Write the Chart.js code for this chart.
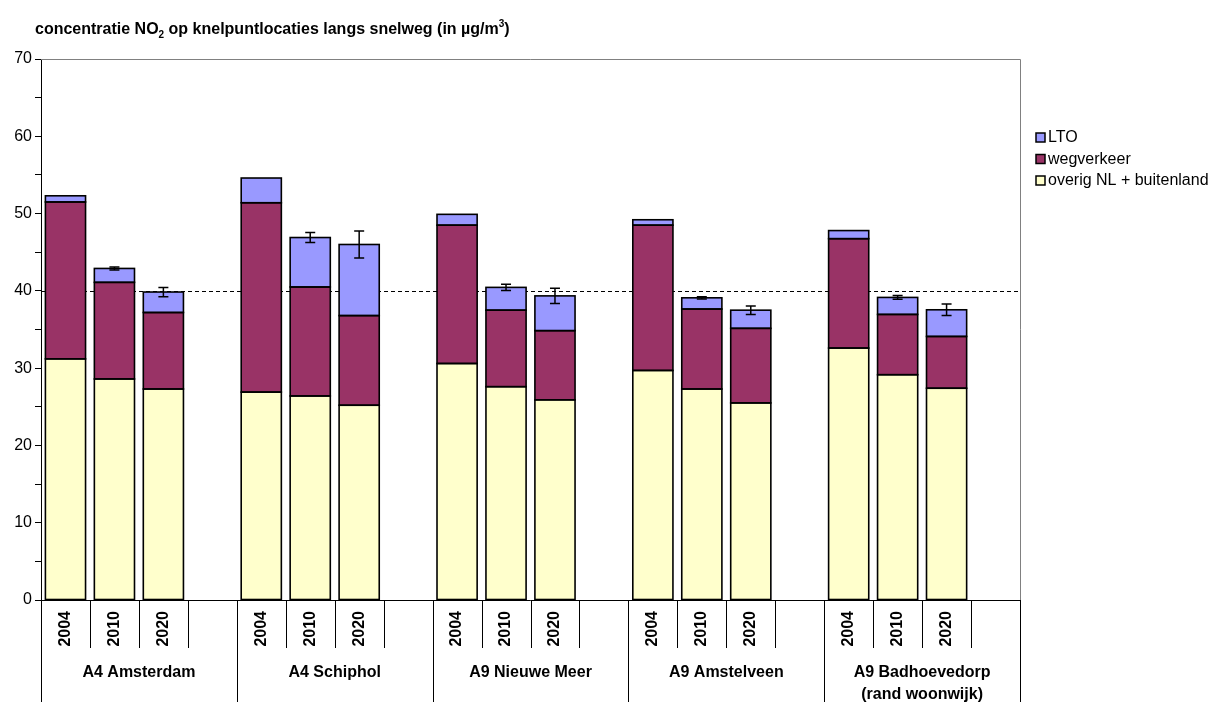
<!DOCTYPE html>
<html>
<head>
<meta charset="utf-8">
<script src="https://cdn.jsdelivr.net/npm/chart.js@4/dist/chart.umd.min.js"></script>
<style>
  html, body { margin: 0; padding: 0; background: #fff; }
  #wrap { position: relative; width: 1221px; height: 702px; }
</style>
</head>
<body>
<div id="wrap"><canvas id="no2Chart" width="1221" height="702"></canvas></div>
<script>
const locations = ["A4 Amsterdam", "A4 Schiphol", "A9 Nieuwe Meer", "A9 Amstelveen", ["A9 Badhoevedorp", "(rand woonwijk)"]];
const years = ["2004", "2010", "2020"];

// contributions per location and year (µg/m3), in order 2004, 2010, 2020
const overigNL = [31.2, 28.6, 27.3, 26.9, 26.4, 25.2, 30.6, 27.6, 25.9, 29.7, 27.3, 25.5, 32.6, 29.15, 27.4];
const wegverkeer = [20.3, 12.5, 9.9, 24.5, 14.1, 11.6, 17.9, 9.9, 8.95, 18.8, 10.35, 9.65, 14.15, 7.8, 6.7];
const lto = [0.8, 1.8, 2.65, 3.2, 6.4, 9.2, 1.4, 2.95, 4.5, 0.7, 1.45, 2.35, 1.05, 2.2, 3.45];
const ltoError = [0, 0.2, 0.6, 0, 0.65, 1.75, 0, 0.4, 1.0, 0, 0.15, 0.55, 0, 0.25, 0.75];
const limitValue = 40;

const yTicks = [0, 10, 20, 30, 40, 50, 60, 70];

const FONT = "'Liberation Sans', Arial, sans-serif";

// every location gets an empty slot after its three years
function withGaps(arr) {
  const out = [];
  arr.forEach((v, i) => {
    out.push(v);
    if (i % 3 === 2) out.push(null);
  });
  return out;
}

const labels = [];
locations.forEach(() => {
  years.forEach((y) => labels.push(y));
  labels.push("");
});

const totals = overigNL.map((v, i) => v + wegverkeer[i] + lto[i]);
const totalsGapped = withGaps(totals);
const errorGapped = withGaps(ltoError);

const legendItems = [
  { label: "LTO", color: "#9999ff" },
  { label: "wegverkeer", color: "#993366" },
  { label: "overig NL + buitenland", color: "#ffffcc" },
];

const decorations = {
  id: "decorations",
  beforeDatasetsDraw(chart) {
    const { ctx, chartArea: a, scales } = chart;
    const y40 = Math.round(scales.y.getPixelForValue(limitValue)) + 0.5;
    ctx.save();
    ctx.strokeStyle = "#000";
    ctx.lineWidth = 1;
    ctx.setLineDash([4, 3]);
    ctx.beginPath();
    ctx.moveTo(a.left, y40);
    ctx.lineTo(a.right, y40);
    ctx.stroke();
    ctx.restore();
  },
  afterDatasetsDraw(chart) {
    const { ctx, scales } = chart;
    ctx.save();
    ctx.strokeStyle = "#000";

    // outline every stacked segment so the joins get one line
    ctx.lineWidth = 1.6;
    chart.data.datasets.forEach((ds, di) => {
      chart.getDatasetMeta(di).data.forEach((el, i) => {
        if (ds.data[i] === null) return;
        const { x, y, base, width } = el.getProps(["x", "y", "base", "width"], true);
        ctx.strokeRect(x - width / 2, y, width, base - y);
      });
    });

    // uncertainty on the 2010 and 2020 totals
    const meta = chart.getDatasetMeta(2);
    ctx.lineWidth = 1.5;
    totalsGapped.forEach((t, i) => {
      const e = errorGapped[i];
      if (t === null || !e) return;
      const x = meta.data[i].x;
      const yHi = scales.y.getPixelForValue(t + e);
      const yLo = scales.y.getPixelForValue(t - e);
      ctx.beginPath();
      ctx.moveTo(x, yHi);
      ctx.lineTo(x, yLo);
      ctx.moveTo(x - 5, yHi);
      ctx.lineTo(x + 5, yHi);
      ctx.moveTo(x - 5, yLo);
      ctx.lineTo(x + 5, yLo);
      ctx.stroke();
    });
    ctx.restore();
  },
  afterDraw(chart) {
    const { ctx, chartArea: a, scales } = chart;
    const slot = a.width / labels.length;
    const bottom = chart.height;
    ctx.save();

    // plot frame: grey top and right edge, black x axis
    ctx.strokeStyle = "#808080";
    ctx.lineWidth = 1;
    ctx.beginPath();
    ctx.moveTo(a.left, a.top + 0.5);
    ctx.lineTo(a.right + 0.5, a.top + 0.5);
    ctx.lineTo(a.right + 0.5, a.bottom);
    ctx.stroke();

    ctx.strokeStyle = "#000";
    ctx.beginPath();
    ctx.moveTo(a.left, a.bottom + 0.5);
    ctx.lineTo(a.right + 0.5, a.bottom + 0.5);
    ctx.stroke();

    // category separators: short between years, long between locations
    ctx.strokeStyle = "#000";
    for (let i = 0; i <= labels.length; i++) {
      const x = Math.round(a.left + i * slot) + 0.5;
      const long = i % 4 === 0;
      ctx.beginPath();
      ctx.moveTo(x, a.bottom);
      ctx.lineTo(x, long ? bottom : a.bottom + 48);
      ctx.stroke();
    }

    // year labels, rotated
    ctx.fillStyle = "#000";
    ctx.font = "bold 16px " + FONT;
    ctx.textAlign = "right";
    ctx.textBaseline = "middle";
    labels.forEach((lab, i) => {
      if (!lab) return;
      const x = scales.x.getPixelForValue(i);
      ctx.save();
      ctx.translate(x, a.bottom + 11);
      ctx.rotate(-Math.PI / 2);
      ctx.fillText(lab, 0, 0);
      ctx.restore();
    });

    // location labels
    ctx.textAlign = "center";
    ctx.font = "bold 16px " + FONT;
    locations.forEach((loc, g) => {
      const cx = a.left + (g * 4 + 2) * slot;
      const lines = Array.isArray(loc) ? loc : [loc];
      lines.forEach((ln, k) => ctx.fillText(ln, cx, a.bottom + 73 + k * 22));
    });

    // title with sub- and superscript
    ctx.textAlign = "left";
    ctx.textBaseline = "alphabetic";
    let tx = 35;
    const ty = 34;
    const parts = [
      ["concentratie NO", 0],
      ["2", 1],
      [" op knelpuntlocaties langs snelweg (in µg/m", 0],
      ["3", -1],
      [")", 0],
    ];
    parts.forEach(([txt, shift]) => {
      ctx.font = (shift ? "bold 10px " : "bold 16px ") + FONT;
      const dy = shift === 1 ? 4 : shift === -1 ? -7 : 0;
      ctx.fillText(txt, tx, ty + dy);
      tx += ctx.measureText(txt).width;
    });

    // legend
    ctx.font = "16px " + FONT;
    ctx.textBaseline = "middle";
    legendItems.forEach((item, k) => {
      const ly = 138 + k * 21.5;
      ctx.fillStyle = item.color;
      ctx.fillRect(1036, ly - 5, 9, 9);
      ctx.strokeStyle = "#000";
      ctx.lineWidth = 1.5;
      ctx.strokeRect(1036, ly - 5, 9, 9);
      ctx.fillStyle = "#000";
      ctx.fillText(item.label, 1048, ly);
    });

    ctx.restore();
  },
};

const barStyle = {
  borderWidth: 0,
  inflateAmount: 0,
  categoryPercentage: 1,
  barPercentage: 0.82,
};

new Chart(document.getElementById("no2Chart"), {
  type: "bar",
  data: {
    labels: labels,
    datasets: [
      { label: "overig NL + buitenland", data: withGaps(overigNL), backgroundColor: "#ffffcc", ...barStyle },
      { label: "wegverkeer", data: withGaps(wegverkeer), backgroundColor: "#993366", ...barStyle },
      { label: "LTO", data: withGaps(lto), backgroundColor: "#9999ff", ...barStyle },
    ],
  },
  options: {
    responsive: false,
    animation: false,
    layout: { padding: { left: 0, top: 59, right: 201, bottom: 102 } },
    plugins: {
      legend: { display: false },
      tooltip: { enabled: false },
    },
    scales: {
      x: {
        stacked: true,
        display: false,
      },
      y: {
        stacked: true,
        min: 0,
        max: 70,
        afterFit(scale) {
          scale.width = 41;
        },
        border: { display: true, color: "#000", width: 1 },
        grid: {
          drawOnChartArea: false,
          drawTicks: true,
          tickLength: 6,
          color: "#000",
        },
        ticks: {
          stepSize: 5,
          padding: 3,
          color: "#000",
          font: { family: FONT, size: 16 },
          callback: (v) => (yTicks.includes(v) ? v : ""),
        },
      },
    },
  },
  plugins: [decorations],
});
</script>
</body>
</html>
